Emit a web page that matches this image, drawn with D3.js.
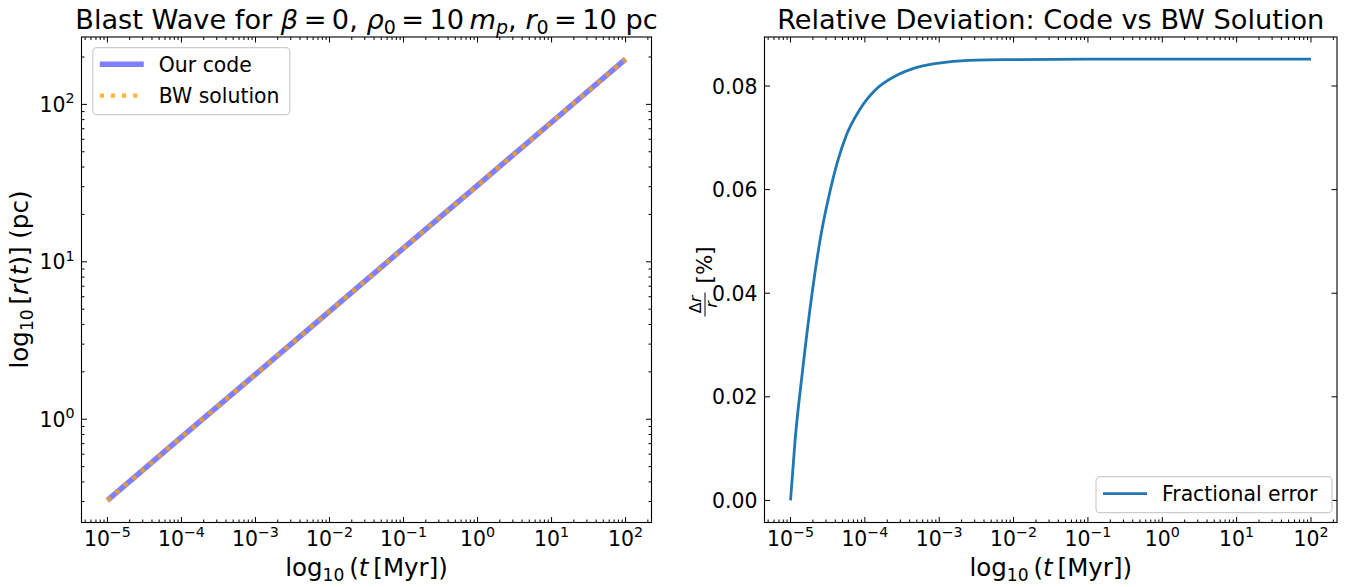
<!DOCTYPE html>
<html>
<head>
<meta charset="utf-8">
<script src="https://cdn.jsdelivr.net/npm/d3@7"></script>
<style>
    body { margin: 0; background: #fff; }
    svg text { font-family: "DejaVu Sans", sans-serif; fill: #000; }
</style>
</head>
<body>
<div id="chart"></div>
<script>
// left panel: shock radius vs time, both runs
const timeMyr = [1e-5, 1e-4, 1e-3, 1e-2, 1e-1, 1e0, 1e1, 1e2]
const radiusCode = [0.305, 0.77, 1.93, 4.85, 12.2, 30.6, 77.0, 194]
const radiusBW = [0.305, 0.77, 1.93, 4.85, 12.2, 30.6, 77.0, 194]

// right panel: fractional error in percent
const errTime = [1.0e-5, 1.15e-5, 1.45e-5, 1.95e-5, 2.5e-5, 3.4e-5, 4.25e-5, 5.6e-5, 8.5e-5,
    1.45e-4, 2.4e-4, 5.0e-4, 1.26e-3, 3.2e-3, 1e-2, 1e-1, 1e0, 1e1, 1e2]
const errValue = [0.0, 0.0115, 0.0250, 0.0400, 0.0503, 0.0597, 0.0652, 0.0704, 0.0754,
    0.0795, 0.0817, 0.0836, 0.0846, 0.0850, 0.0851, 0.0852, 0.0852, 0.0852, 0.0852]

// tick labels
const xTickExp = [-5, -4, -3, -2, -1, 0, 1, 2]
const leftYTickExp = [0, 1, 2]
const rightYTicks = [0.00, 0.02, 0.04, 0.06, 0.08]

const W = 1357, H = 587
const tickFont = 20.4, labelFont = 24.5, titleFont = 27.2

const svg = d3.select("#chart").append("svg")
    .attr("width", W)
    .attr("height", H)

// matplotlib-ish 5% margins
function logDomain(vals) {
    const lo = Math.log10(d3.min(vals)), hi = Math.log10(d3.max(vals))
    const m = (hi - lo) * 0.05
    return [Math.pow(10, lo - m), Math.pow(10, hi + m)]
}
function linDomain(vals) {
    const lo = d3.min(vals), hi = d3.max(vals)
    const m = (hi - lo) * 0.05
    return [lo - m, hi + m]
}

// text with sub/superscripts and italics
function rich(textSel, parts, size) {
    let shift = 0
    parts.forEach(p => {
        const ts = textSel.append("tspan").text(p.t)
        let target = 0
        if (p.sub) target = 0.2 * size
        if (p.sup) target = -0.42 * size
        if (target - shift !== 0) ts.attr("dy", target - shift)
        shift = target
        if (p.sub || p.sup) ts.attr("font-size", size * 0.7)
        if (p.it) ts.attr("font-style", "italic")
    })
    return textSel
}

function minorLogTicks(domain) {
    const out = []
    const a = Math.floor(Math.log10(domain[0])), b = Math.ceil(Math.log10(domain[1]))
    for (let d = a; d <= b; d++) {
        for (let k = 2; k <= 9; k++) {
            const v = k * Math.pow(10, d)
            if (v >= domain[0] && v <= domain[1]) out.push(v)
        }
    }
    return out
}

function drawPanel(cfg) {
    const g = svg.append("g")
    const x = cfg.x, y = cfg.y
    const [x0, x1] = x.range(), [y1, y0] = y.range()

    const clipId = "clip" + cfg.id
    svg.append("clipPath").attr("id", clipId)
        .append("rect").attr("x", x0).attr("y", y0).attr("width", x1 - x0).attr("height", y1 - y0)
    const plot = g.append("g").attr("clip-path", `url(#${clipId})`)
    cfg.drawLines(plot)

    // ticks, pointing inward on all four sides
    const ticks = g.append("g").attr("stroke", "#000").attr("stroke-width", 1)
    const xMajor = xTickExp.map(e => Math.pow(10, e))
    const xMinor = minorLogTicks(x.domain())
    const xt = (vals, len) => {
        vals.forEach(v => {
            const px = x(v)
            ticks.append("line").attr("x1", px).attr("x2", px).attr("y1", y1).attr("y2", y1 - len)
            ticks.append("line").attr("x1", px).attr("x2", px).attr("y1", y0).attr("y2", y0 + len)
        })
    }
    xt(xMajor, 5.5)
    xt(xMinor, 3)
    const yt = (vals, len) => {
        vals.forEach(v => {
            const py = y(v)
            ticks.append("line").attr("x1", x0).attr("x2", x0 + len).attr("y1", py).attr("y2", py)
            ticks.append("line").attr("x1", x1).attr("x2", x1 - len).attr("y1", py).attr("y2", py)
        })
    }
    yt(cfg.yMajor, 5.5)
    if (cfg.yMinor) yt(cfg.yMinor, 3)

    // tick labels
    xTickExp.forEach(e => {
        rich(g.append("text")
            .attr("x", x(Math.pow(10, e)))
            .attr("y", y1 + 23)
            .attr("text-anchor", "middle")
            .attr("font-size", tickFont),
            [{t: "10"}, {t: String(e).replace("-", "\u2212"), sup: true}], tickFont)
    })
    cfg.yMajor.forEach((v, i) => {
        const t = g.append("text")
            .attr("x", x0 - 7)
            .attr("y", y(v) + 7.5)
            .attr("text-anchor", "end")
            .attr("font-size", tickFont)
        if (cfg.yLog) rich(t, [{t: "10"}, {t: String(cfg.yLabels[i]), sup: true}], tickFont)
        else t.text(cfg.yLabels[i])
    })

    // spines
    g.append("rect")
        .attr("x", x0).attr("y", y0)
        .attr("width", x1 - x0).attr("height", y1 - y0)
        .attr("fill", "none").attr("stroke", "#000").attr("stroke-width", 1.1)

    // title
    rich(g.append("text")
        .attr("x", (x0 + x1) / 2).attr("y", 28.5)
        .attr("text-anchor", "middle")
        .attr("font-size", titleFont), cfg.title, titleFont)

    // x label
    rich(g.append("text")
        .attr("x", (x0 + x1) / 2).attr("y", 576)
        .attr("text-anchor", "middle")
        .attr("font-size", labelFont),
        [{t: "log"}, {t: "10", sub: true}, {t: "\u2009("}, {t: "t", it: true}, {t: "\u2009[Myr])"}], labelFont)

    return g
}

function legend(g, box, items) {
    g.append("rect")
        .attr("x", box.x).attr("y", box.y)
        .attr("width", box.w).attr("height", box.h)
        .attr("rx", 4)
        .attr("fill", "#fff").attr("fill-opacity", 0.8)
        .attr("stroke", "#cccccc").attr("stroke-width", 1.2)
    items.forEach((it, i) => {
        const cy = box.y + box.first + i * box.step
        const ln = g.append("line")
            .attr("x1", box.x + 7).attr("x2", box.x + 51)
            .attr("y1", cy).attr("y2", cy)
        it.style(ln)
        g.append("text")
            .attr("x", box.x + 66).attr("y", cy + 7.3)
            .attr("font-size", tickFont)
            .text(it.label)
    })
}

const styleCode = s => s.attr("stroke", "#0000ff").attr("stroke-opacity", 0.5).attr("stroke-width", 5.5).attr("fill", "none")
const styleBW = s => s.attr("stroke", "#ffa500").attr("stroke-opacity", 0.8).attr("stroke-width", 4.2)
    .attr("stroke-dasharray", "4.2,6.9").attr("fill", "none")
const styleErr = s => s.attr("stroke", "#1f77b4").attr("stroke-width", 2.8).attr("fill", "none")

// ---- left panel
const xL = d3.scaleLog().domain(logDomain(timeMyr)).range([81.5, 651.5])
const yL = d3.scaleLog().domain(logDomain(radiusCode.concat(radiusBW))).range([522.5, 37])

const left = drawPanel({
    id: "L", x: xL, y: yL, yLog: true,
    yMajor: leftYTickExp.map(e => Math.pow(10, e)),
    yLabels: leftYTickExp,
    yMinor: minorLogTicks(yL.domain()),
    title: [{t: "Blast Wave for "}, {t: "\u03b2", it: true}, {t: "\u2009=\u20090, "}, {t: "\u03c1", it: true}, {t: "0", sub: true},
        {t: "\u2009=\u200910\u2009"}, {t: "m", it: true}, {t: "p", sub: true, it: true}, {t: ", "}, {t: "r", it: true}, {t: "0", sub: true},
        {t: "\u2009=\u200910 pc"}],
    drawLines: plot => {
        const lineCode = d3.line().x((d, i) => xL(timeMyr[i])).y(d => yL(d))
        plot.append("path").attr("d", lineCode(radiusCode)).call(styleCode)
        plot.append("path").attr("d", lineCode(radiusBW)).call(styleBW)
    }
})

rich(left.append("text")
    .attr("transform", "translate(28,279.5) rotate(-90)")
    .attr("text-anchor", "middle")
    .attr("font-size", labelFont),
    [{t: "log"}, {t: "10", sub: true}, {t: "\u2009["}, {t: "r", it: true}, {t: "("}, {t: "t", it: true}, {t: ")] (pc)"}], labelFont)

legend(left, {x: 92.8, y: 47.7, w: 197, h: 67, first: 16.6, step: 31.4}, [
    {label: "Our code", style: styleCode},
    {label: "BW solution", style: styleBW}
])

// ---- right panel
const xR = d3.scaleLog().domain(logDomain(errTime)).range([764.5, 1337])
const yR = d3.scaleLinear().domain(linDomain(errValue)).range([522.5, 37])

const right = drawPanel({
    id: "R", x: xR, y: yR, yLog: false,
    yMajor: rightYTicks,
    yLabels: rightYTicks.map(d3.format(".2f")),
    title: [{t: "Relative Deviation: Code vs BW Solution"}],
    drawLines: plot => {
        const lineErr = d3.line().x((d, i) => xR(errTime[i])).y(d => yR(d)).curve(d3.curveMonotoneX)
        plot.append("path").attr("d", lineErr(errValue)).call(styleErr)
    }
})

// y label: fraction  Δr / r  then [%]
const yLab = right.append("g").attr("transform", "translate(705,279.5) rotate(-90)")
yLab.append("text").attr("x", -25).attr("y", -4).attr("text-anchor", "middle")
    .attr("font-size", 16).call(t => rich(t, [{t: "\u0394"}, {t: "r", it: true}], 16))
yLab.append("line").attr("x1", -37).attr("x2", -13).attr("y1", 0).attr("y2", 0)
    .attr("stroke", "#000").attr("stroke-width", 1)
yLab.append("text").attr("x", -25).attr("y", 12).attr("text-anchor", "middle")
    .attr("font-size", 16).attr("font-style", "italic").text("r")
yLab.append("text").attr("x", -4).attr("y", 7).attr("font-size", 21.5).text("[%]")

legend(right, {x: 1096, y: 476.7, w: 236, h: 36, first: 17, step: 0}, [
    {label: "Fractional error", style: styleErr}
])
</script>
</body>
</html>
